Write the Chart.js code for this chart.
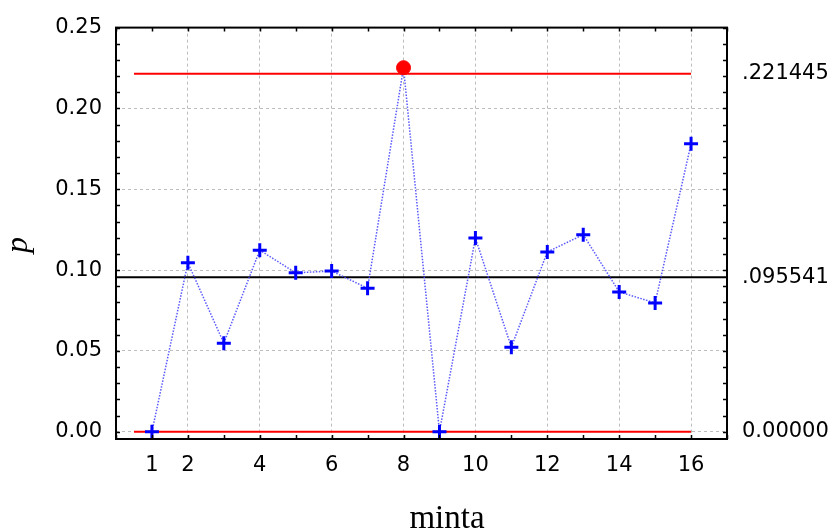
<!DOCTYPE html>
<html>
<head>
<meta charset="utf-8">
<script src="https://cdn.jsdelivr.net/npm/chart.js@4.4.1/dist/chart.umd.min.js"></script>
<style>
  html, body { margin: 0; padding: 0; background: #fff; }
  #wrap { width: 838px; height: 531px; }
</style>
</head>
<body>
<div id="wrap"><canvas id="pChart" width="838" height="531"></canvas></div>
<script>
// Sample numbers (minta) and the p values
const samples = [1, 2, 3, 4, 5, 6, 7, 8, 9, 10, 11, 12, 13, 14, 15, 16];
const pValues = [0.000, 0.1045, 0.0548, 0.1123, 0.0983, 0.0994, 0.0888, 0.2252,
                 0.000, 0.1198, 0.0523, 0.1112, 0.1219, 0.0865, 0.0797, 0.1781];

// Control limits
const ucl = 0.221445;
const centerLine = 0.095541;
const lcl = 0.0;
const limitLabels = ['.221445', '.095541', '0.00000'];

// Tick labels
const xTicks = [1, 2, 4, 6, 8, 10, 12, 14, 16];
const yTicks = [0, 0.05, 0.10, 0.15, 0.20, 0.25];

const pPoints = samples.map((s, i) => ({ x: s, y: pValues[i] }));
const firstSample = samples[0];
const lastSample = samples[samples.length - 1];

const tickFont = { family: 'DejaVu Sans, Arial, sans-serif', size: 21 };

// Frame, inward tick marks and the two axis titles
const framePlugin = {
    id: 'frame',
    afterDraw(chart) {
        const ctx = chart.ctx;
        const area = chart.chartArea;
        const xs = chart.scales.x;
        const ys = chart.scales.y;
        ctx.save();
        ctx.strokeStyle = '#000';
        ctx.lineWidth = 1.5;
        ctx.beginPath();
        for (let v = 0; v <= 17; v++) {
            const px = Math.round(xs.getPixelForValue(v)) + 0.5;
            ctx.moveTo(px, area.bottom); ctx.lineTo(px, area.bottom - 4);
            ctx.moveTo(px, area.top); ctx.lineTo(px, area.top + 4);
        }
        for (let k = 0; k <= 25; k++) {
            const py = Math.round(ys.getPixelForValue(k / 100)) + 0.5;
            ctx.moveTo(area.left, py); ctx.lineTo(area.left + 4, py);
            ctx.moveTo(area.right, py); ctx.lineTo(area.right - 4, py);
        }
        ctx.stroke();
        ctx.lineWidth = 2;
        ctx.strokeRect(area.left, area.top, area.right - area.left, area.bottom - area.top);

        // axis titles
        ctx.fillStyle = '#000';
        ctx.font = '33px "Liberation Serif", "Times New Roman", serif';
        ctx.textAlign = 'center';
        ctx.textBaseline = 'alphabetic';
        ctx.fillText('minta', 447, 528);

        ctx.translate(27, 245);
        ctx.rotate(-Math.PI / 2);
        ctx.font = 'italic 32px "Liberation Serif", "Times New Roman", serif';
        ctx.fillText('p', 0, 0);
        ctx.restore();
    }
};

const ctx = document.getElementById('pChart').getContext('2d');
new Chart(ctx, {
    type: 'line',
    data: {
        datasets: [
            {
                label: 'p',
                data: pPoints,
                order: 0,
                borderColor: 'rgba(60,60,255,0.85)',
                borderWidth: 1.5,
                borderDash: [1.5, 1.5],
                pointStyle: (c) => (c.raw && c.raw.y > ucl ? 'circle' : 'cross'),
                pointRadius: 7,
                pointBorderWidth: (c) => (c.raw && c.raw.y > ucl ? 1 : 3),
                pointBorderColor: (c) => (c.raw && c.raw.y > ucl ? '#ff0000' : '#0000ff'),
                pointBackgroundColor: (c) => (c.raw && c.raw.y > ucl ? '#ff0000' : '#0000ff'),
                pointHoverRadius: 7,
                tension: 0
            },
            {
                label: 'UCL',
                data: [{ x: firstSample - 0.5, y: ucl }, { x: lastSample, y: ucl }],
                order: 1,
                borderColor: '#ff0000',
                borderWidth: 2,
                pointRadius: 0
            },
            {
                label: 'CL',
                data: [{ x: 0, y: centerLine }, { x: 17, y: centerLine }],
                order: 1,
                borderColor: '#000000',
                borderWidth: 2,
                pointRadius: 0
            },
            {
                label: 'LCL',
                data: [{ x: firstSample - 0.5, y: lcl }, { x: lastSample, y: lcl }],
                order: 1,
                borderColor: '#ff0000',
                borderWidth: 2,
                pointRadius: 0
            }
        ]
    },
    options: {
        responsive: false,
        animation: false,
        layout: { padding: { top: 24, left: 0, right: 0, bottom: 0 } },
        plugins: {
            legend: { display: false },
            tooltip: { enabled: false }
        },
        scales: {
            x: {
                type: 'linear',
                min: 0,
                max: 17,
                afterBuildTicks: (scale) => { scale.ticks = xTicks.map(v => ({ value: v })); },
                afterFit: (scale) => { scale.height = 92; },
                ticks: {
                    color: '#000',
                    padding: 14,
                    maxRotation: 0,
                    autoSkip: false,
                    font: tickFont,
                    callback: (v) => String(v)
                },
                grid: {
                    drawTicks: false,
                    color: (c) => (c.tick && c.tick.value === 1 ? 'rgba(0,0,0,0)' : '#bdbdbd'),
                    lineWidth: 1
                },
                border: { display: false, dash: [3, 3] }
            },
            y: {
                type: 'linear',
                position: 'left',
                min: -0.0045,
                max: 0.25,
                afterBuildTicks: (scale) => { scale.ticks = yTicks.map(v => ({ value: v })); },
                afterFit: (scale) => { scale.width = 116; },
                ticks: {
                    color: '#000',
                    padding: 14,
                    font: tickFont,
                    callback: (v) => Number(v).toFixed(2)
                },
                grid: { drawTicks: false, color: '#bdbdbd', lineWidth: 1 },
                border: { display: false, dash: [3, 3] }
            },
            y2: {
                type: 'linear',
                position: 'right',
                min: -0.0045,
                max: 0.25,
                afterBuildTicks: (scale) => { scale.ticks = [ucl, centerLine, lcl].map(v => ({ value: v })); },
                afterFit: (scale) => { scale.width = 111; },
                ticks: {
                    color: '#000',
                    padding: 15,
                    font: tickFont,
                    callback: (v, i) => limitLabels[i]
                },
                grid: { display: false, drawTicks: false },
                border: { display: false }
            }
        }
    },
    plugins: [framePlugin]
});
</script>
</body>
</html>
